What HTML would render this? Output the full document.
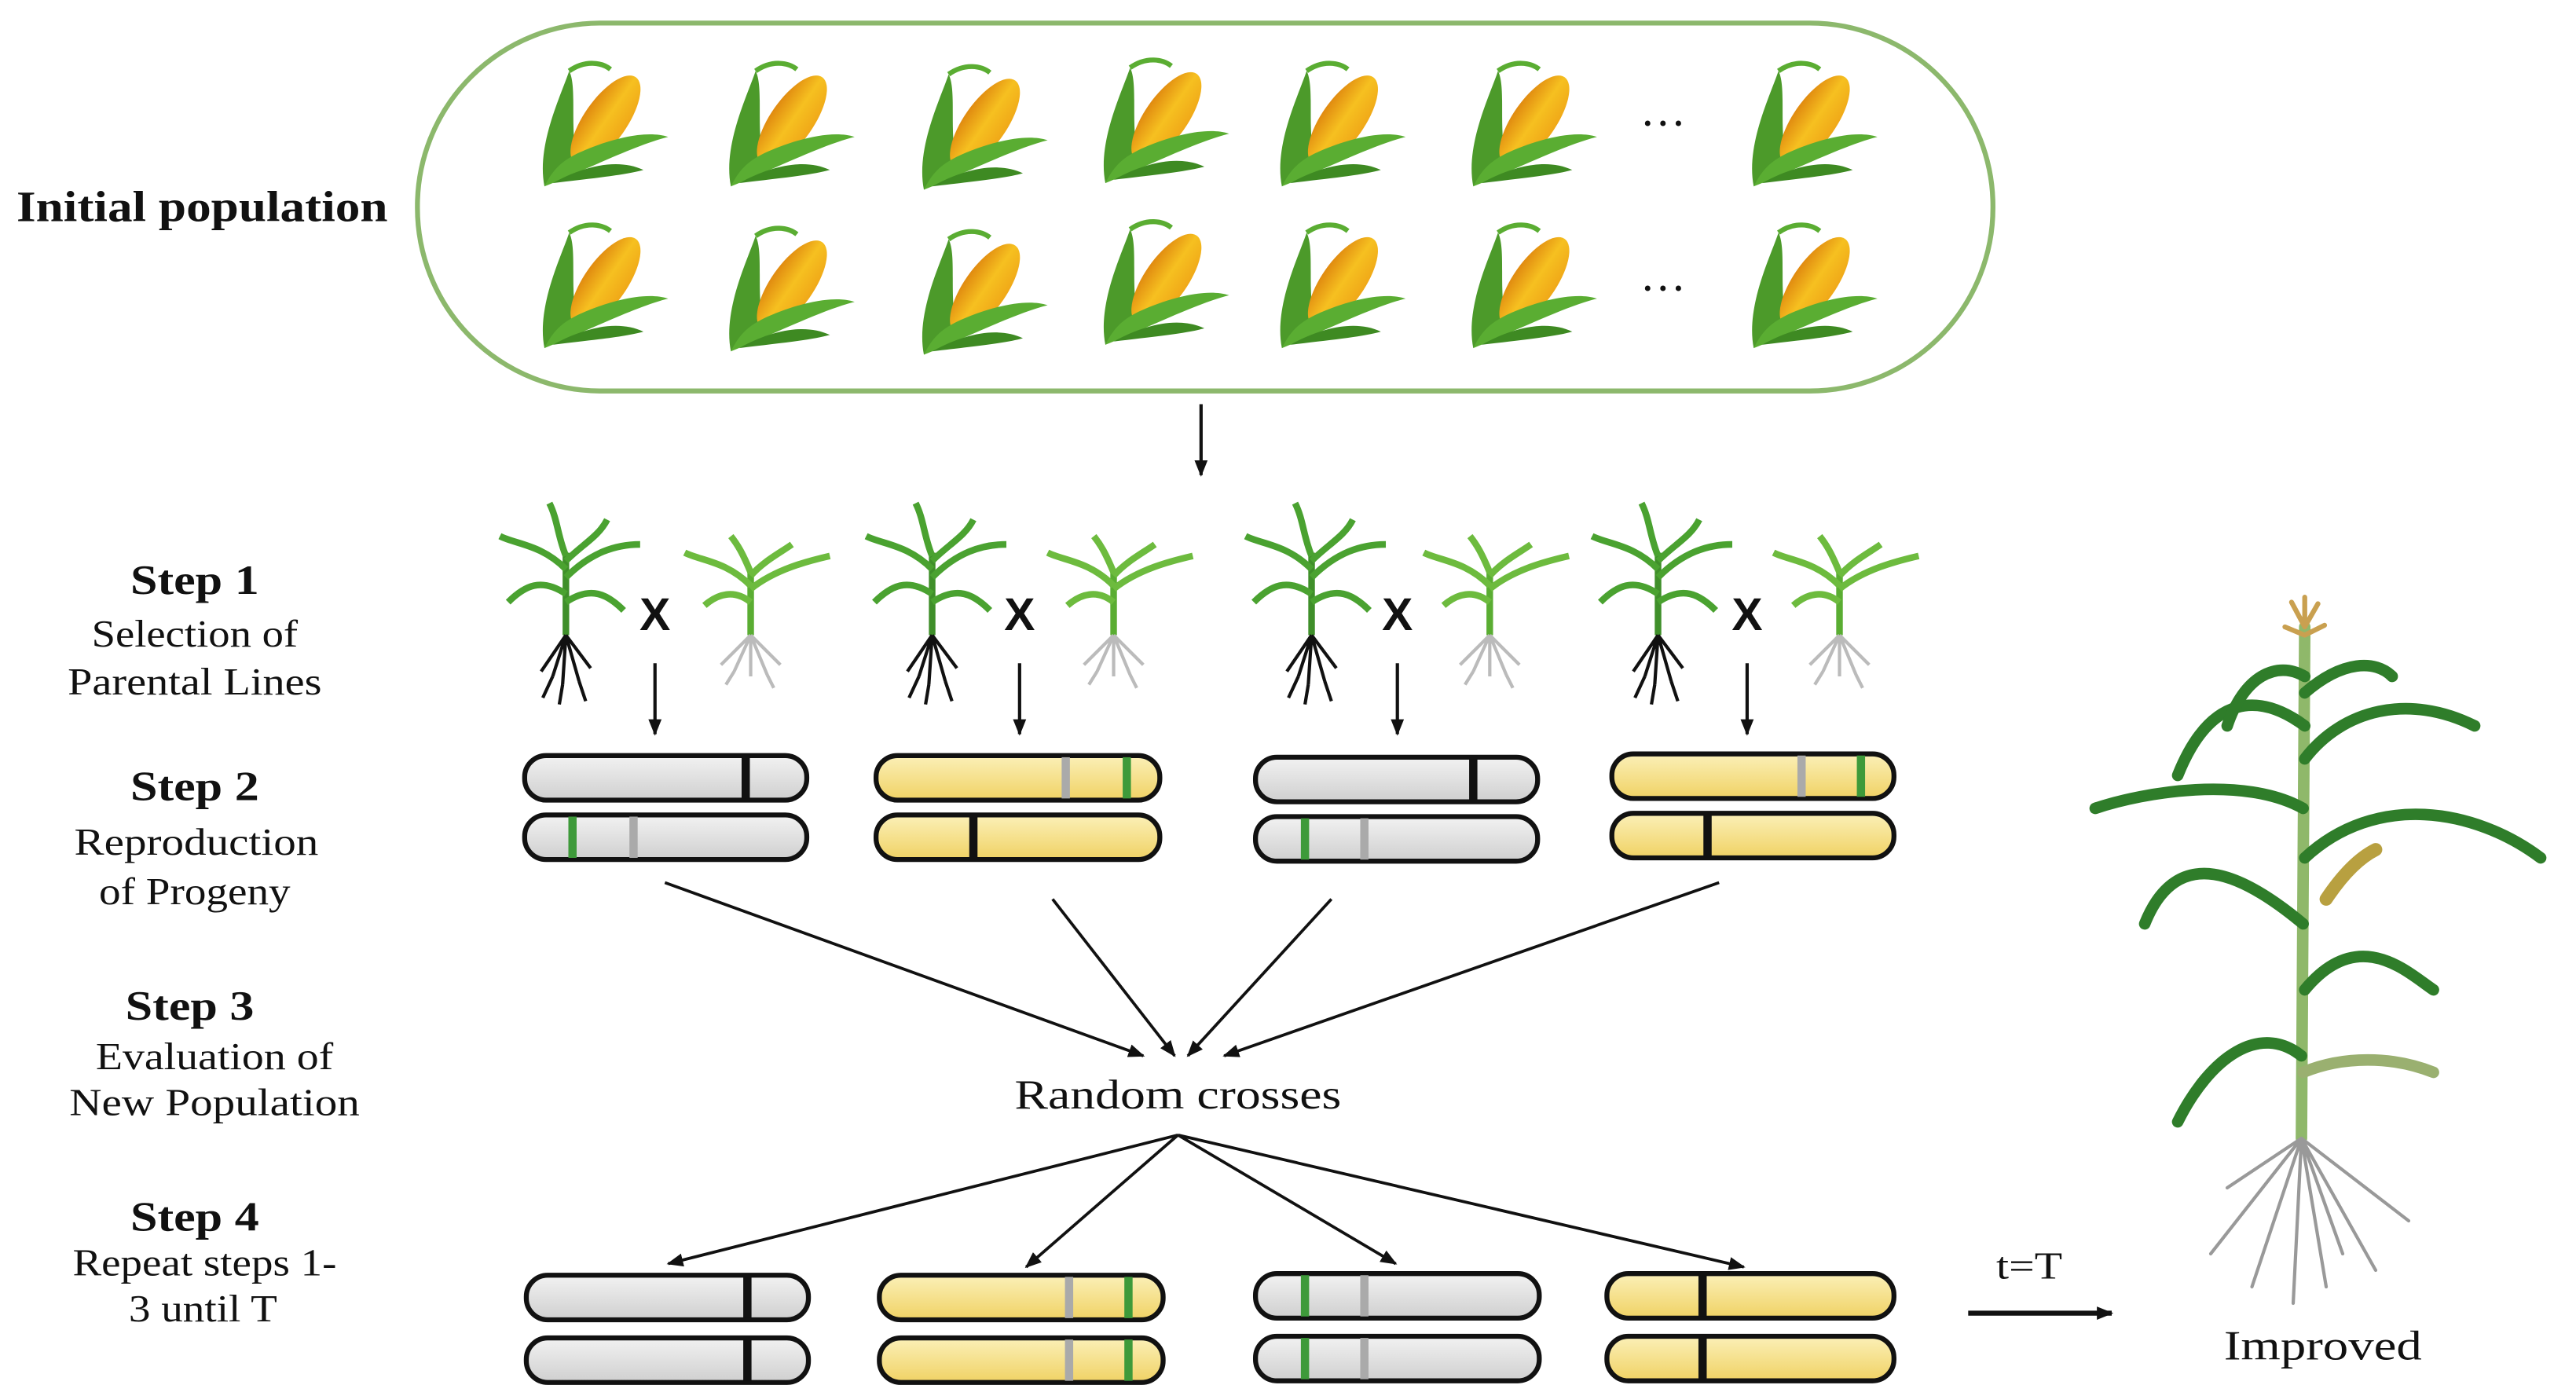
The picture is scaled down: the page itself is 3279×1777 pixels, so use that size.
<!DOCTYPE html>
<html><head><meta charset="utf-8"><style>
html,body{margin:0;padding:0;background:#fff;}
svg{display:block;}
text{font-family:"Liberation Serif",serif;fill:#111;}
</style></head><body>
<svg width="3279" height="1777" viewBox="0 0 1561.4 846.2" xmlns="http://www.w3.org/2000/svg">
<defs>
<linearGradient id="cob" x1="0" y1="0" x2="1" y2="0"><stop offset="0" stop-color="#e08a10"/><stop offset="0.5" stop-color="#f6c020"/><stop offset="1" stop-color="#f0a818"/></linearGradient>
<linearGradient id="gray" x1="0" y1="0" x2="0" y2="1"><stop offset="0" stop-color="#f2f2f2"/><stop offset="1" stop-color="#cfcfcf"/></linearGradient>
<linearGradient id="yel" x1="0" y1="0" x2="0" y2="1"><stop offset="0" stop-color="#fbf0b8"/><stop offset="1" stop-color="#f0d264"/></linearGradient>
<marker id="ah" markerWidth="10" markerHeight="10" refX="9" refY="5" orient="auto" markerUnits="userSpaceOnUse"><path d="M0,1 L10,5 L0,9 Z" fill="#111"/></marker>
<g id="corn">
<path d="M-35,35 C-40,10 -25,-20 -20,-35 C-15,-25 -20,0 -15,20 Z" fill="#4c9a2a"/>
<ellipse cx="2" cy="-5" rx="13" ry="32" transform="rotate(35 2 -5)" fill="url(#cob)"/>
<path d="M-35,35 C-10,25 20,10 40,5 C25,0 0,8 -15,15 C-25,20 -30,25 -35,35 Z" fill="#5aad32"/>
<path d="M-30,33 C-5,30 15,28 25,25 C10,18 -10,22 -30,33 Z" fill="#3e8a22"/>
<path d="M-20,-35 C-10,-42 0,-40 5,-36" stroke="#5aad32" stroke-width="3" fill="none"/>
</g>
<g id="plantA">
<path d="M0,0 L0,-50" stroke="#3f8f2a" stroke-width="4"/>
<path d="M0,-40 C-15,-55 -30,-55 -40,-60 M0,-35 C15,-50 30,-55 45,-55 M0,-25 C-15,-35 -25,-30 -35,-20 M0,-20 C15,-30 25,-25 35,-15 M0,-48 C-5,-60 -5,-70 -10,-80 M0,-45 C10,-55 20,-60 25,-70" stroke="#4aa230" stroke-width="4" fill="none"/>
<path d="M0,0 L-8,25 M0,0 L-2,30 M0,0 L8,28 M0,0 L15,20 M0,0 L-15,22 M-8,25 L-14,38 M8,28 L12,40 M-2,30 L-4,42" stroke="#111" stroke-width="2" fill="none"/>
</g>
<g id="plantB">
<path d="M0,0 L0,-40" stroke="#5aad32" stroke-width="4"/>
<path d="M0,-30 C-15,-45 -30,-45 -40,-50 M0,-28 C15,-40 35,-45 48,-48 M0,-20 C-10,-28 -20,-25 -28,-18 M0,-38 C-5,-50 -8,-55 -12,-60 M0,-36 C8,-45 18,-50 25,-55" stroke="#6dbb3e" stroke-width="4" fill="none"/>
<path d="M0,0 L-10,22 M0,0 L0,25 M0,0 L10,24 M0,0 L18,18 M0,0 L-18,18 M-10,22 L-15,30 M10,24 L14,32" stroke="#bbb" stroke-width="2" fill="none"/>
</g>
</defs>

<text x="10" y="134" font-size="26" font-weight="bold" textLength="225" lengthAdjust="spacingAndGlyphs">Initial population</text>
<rect x="253" y="14" width="955" height="223" rx="111" fill="none" stroke="#8cb86c" stroke-width="3"/>

<g>
<use href="#corn" x="365" y="78"/><use href="#corn" x="478" y="78"/><use href="#corn" x="595" y="80"/><use href="#corn" x="705" y="76"/><use href="#corn" x="812" y="78"/><use href="#corn" x="928" y="78"/><use href="#corn" x="1098" y="78"/>
<use href="#corn" x="365" y="176"/><use href="#corn" x="478" y="178"/><use href="#corn" x="595" y="180"/><use href="#corn" x="705" y="174"/><use href="#corn" x="812" y="176"/><use href="#corn" x="928" y="176"/><use href="#corn" x="1098" y="176"/>
</g>
<text x="1008" y="84" font-size="28" text-anchor="middle">···</text>
<text x="1008" y="184" font-size="28" text-anchor="middle">···</text>

<line x1="728" y1="245" x2="728" y2="288" stroke="#111" stroke-width="2" marker-end="url(#ah)"/>

<g font-size="23" text-anchor="middle" lengthAdjust="spacingAndGlyphs">
<text x="118" y="360" font-weight="bold" font-size="25" textLength="78" lengthAdjust="spacingAndGlyphs">Step 1</text>
<text x="118" y="392" textLength="125" lengthAdjust="spacingAndGlyphs">Selection of</text>
<text x="118" y="421" textLength="154" lengthAdjust="spacingAndGlyphs">Parental Lines</text>
<text x="118" y="485" font-weight="bold" font-size="25" textLength="78" lengthAdjust="spacingAndGlyphs">Step 2</text>
<text x="119" y="518" textLength="148" lengthAdjust="spacingAndGlyphs">Reproduction</text>
<text x="118" y="548" textLength="116" lengthAdjust="spacingAndGlyphs">of Progeny</text>
<text x="115" y="618" font-weight="bold" font-size="25" textLength="78" lengthAdjust="spacingAndGlyphs">Step 3</text>
<text x="130" y="648" textLength="144" lengthAdjust="spacingAndGlyphs">Evaluation of</text>
<text x="130" y="676" textLength="176" lengthAdjust="spacingAndGlyphs">New Population</text>
<text x="118" y="746" font-weight="bold" font-size="25" textLength="78" lengthAdjust="spacingAndGlyphs">Step 4</text>
<text x="124" y="773" textLength="160" lengthAdjust="spacingAndGlyphs">Repeat steps 1-</text>
<text x="123" y="801" textLength="90" lengthAdjust="spacingAndGlyphs">3 until T</text>
<text x="714" y="672" font-size="25" textLength="198" lengthAdjust="spacingAndGlyphs">Random crosses</text>
<text x="1230" y="775" textLength="40" lengthAdjust="spacingAndGlyphs">t=T</text>
<text x="1408" y="824" font-size="25" textLength="120" lengthAdjust="spacingAndGlyphs">Improved</text>
</g>

<g>
<use href="#plantA" x="343" y="385"/><use href="#plantB" x="455" y="385"/>
<use href="#plantA" x="565" y="385"/><use href="#plantB" x="675" y="385"/>
<use href="#plantA" x="795" y="385"/><use href="#plantB" x="903" y="385"/>
<use href="#plantA" x="1005" y="385"/><use href="#plantB" x="1115" y="385"/>
</g>
<g font-weight="bold" font-size="28" text-anchor="middle">
<text x="397" y="382" style="font-family:'Liberation Sans',sans-serif">X</text>
<text x="618" y="382" style="font-family:'Liberation Sans',sans-serif">X</text>
<text x="847" y="382" style="font-family:'Liberation Sans',sans-serif">X</text>
<text x="1059" y="382" style="font-family:'Liberation Sans',sans-serif">X</text>
</g>
<g stroke="#111" stroke-width="2" marker-end="url(#ah)">
<line x1="397" y1="402" x2="397" y2="445"/><line x1="618" y1="402" x2="618" y2="445"/><line x1="847" y1="402" x2="847" y2="445"/><line x1="1059" y1="402" x2="1059" y2="445"/>
</g>

<g stroke-width="3">
<rect x="318" y="458" width="171" height="27" rx="13" fill="url(#gray)" stroke="#111"/>
<rect x="318" y="494" width="171" height="27" rx="13" fill="url(#gray)" stroke="#111"/>
<rect x="531" y="458" width="172" height="27" rx="13" fill="url(#yel)" stroke="#111"/>
<rect x="531" y="494" width="172" height="27" rx="13" fill="url(#yel)" stroke="#111"/>
<rect x="761" y="459" width="171" height="27" rx="13" fill="url(#gray)" stroke="#111"/>
<rect x="761" y="495" width="171" height="27" rx="13" fill="url(#gray)" stroke="#111"/>
<rect x="977" y="457" width="171" height="27" rx="13" fill="url(#yel)" stroke="#111"/>
<rect x="977" y="493" width="171" height="27" rx="13" fill="url(#yel)" stroke="#111"/>
</g>
<g stroke-width="5">
<line x1="452" y1="459" x2="452" y2="484" stroke="#111"/>
<line x1="347" y1="495" x2="347" y2="520" stroke="#3e9a3a"/><line x1="384" y1="495" x2="384" y2="520" stroke="#aaa"/>
<line x1="646" y1="459" x2="646" y2="484" stroke="#aaa"/><line x1="683" y1="459" x2="683" y2="484" stroke="#3e9a3a"/>
<line x1="590" y1="495" x2="590" y2="520" stroke="#111"/>
<line x1="893" y1="460" x2="893" y2="485" stroke="#111"/>
<line x1="791" y1="496" x2="791" y2="521" stroke="#3e9a3a"/><line x1="827" y1="496" x2="827" y2="521" stroke="#aaa"/>
<line x1="1092" y1="458" x2="1092" y2="483" stroke="#aaa"/><line x1="1128" y1="458" x2="1128" y2="483" stroke="#3e9a3a"/>
<line x1="1035" y1="494" x2="1035" y2="519" stroke="#111"/>
</g>

<g stroke="#111" stroke-width="1.8" marker-end="url(#ah)">
<line x1="403" y1="535" x2="693" y2="640"/>
<line x1="638" y1="545" x2="712" y2="640"/>
<line x1="807" y1="545" x2="720" y2="640"/>
<line x1="1042" y1="535" x2="742" y2="640"/>
<line x1="714" y1="688" x2="405" y2="766"/>
<line x1="714" y1="688" x2="622" y2="768"/>
<line x1="714" y1="688" x2="846" y2="766"/>
<line x1="714" y1="688" x2="1057" y2="768"/>
<line x1="1193" y1="796" x2="1280" y2="796" stroke-width="3"/>
</g>

<g stroke-width="3">
<rect x="319" y="773" width="171" height="27" rx="13" fill="url(#gray)" stroke="#111"/>
<rect x="319" y="811" width="171" height="27" rx="13" fill="url(#gray)" stroke="#111"/>
<rect x="533" y="773" width="172" height="27" rx="13" fill="url(#yel)" stroke="#111"/>
<rect x="533" y="811" width="172" height="27" rx="13" fill="url(#yel)" stroke="#111"/>
<rect x="761" y="772" width="172" height="27" rx="13" fill="url(#gray)" stroke="#111"/>
<rect x="761" y="810" width="172" height="27" rx="13" fill="url(#gray)" stroke="#111"/>
<rect x="974" y="772" width="174" height="27" rx="13" fill="url(#yel)" stroke="#111"/>
<rect x="974" y="810" width="174" height="27" rx="13" fill="url(#yel)" stroke="#111"/>
</g>
<g stroke-width="5">
<line x1="453" y1="774" x2="453" y2="799" stroke="#111"/><line x1="453" y1="812" x2="453" y2="837" stroke="#111"/>
<line x1="648" y1="774" x2="648" y2="799" stroke="#aaa"/><line x1="684" y1="774" x2="684" y2="799" stroke="#3e9a3a"/>
<line x1="648" y1="812" x2="648" y2="837" stroke="#aaa"/><line x1="684" y1="812" x2="684" y2="837" stroke="#3e9a3a"/>
<line x1="791" y1="773" x2="791" y2="798" stroke="#3e9a3a"/><line x1="827" y1="773" x2="827" y2="798" stroke="#aaa"/>
<line x1="791" y1="811" x2="791" y2="836" stroke="#3e9a3a"/><line x1="827" y1="811" x2="827" y2="836" stroke="#aaa"/>
<line x1="1032" y1="773" x2="1032" y2="798" stroke="#111"/><line x1="1032" y1="811" x2="1032" y2="836" stroke="#111"/>
</g>

<g fill="none" stroke-linecap="round">
<path d="M1395,690 L1397,380" stroke="#8fb86a" stroke-width="7"/>
<path d="M1397,380 l-8,-15 M1397,380 l8,-14 M1397,380 l0,-18 M1397,385 l-12,-5 M1397,385 l12,-6" stroke="#c9a050" stroke-width="3"/>
<g stroke="#2f7d2a" stroke-width="7">
<path d="M1395,640 C1370,620 1340,640 1320,680"/>
<path d="M1397,600 C1430,560 1460,590 1475,600"/>
<path d="M1396,560 C1360,530 1320,510 1300,560"/>
<path d="M1397,520 C1440,480 1500,490 1540,520"/>
<path d="M1396,490 C1360,470 1300,480 1270,490"/>
<path d="M1397,460 C1420,430 1460,420 1500,440"/>
<path d="M1397,440 C1370,420 1340,420 1320,470"/>
<path d="M1397,420 C1420,400 1440,400 1450,410"/>
<path d="M1397,410 C1380,400 1360,410 1350,440"/>
<path d="M1396,650 C1420,640 1450,640 1475,650" stroke="#9ab070"/>
</g>
<path d="M1410,545 C1420,530 1430,520 1440,515" stroke="#b8a040" stroke-width="8"/>
<g stroke="#999" stroke-width="2">
<path d="M1395,690 L1340,760 M1395,690 L1365,780 M1395,690 L1390,790 M1395,690 L1410,780 M1395,690 L1440,770 M1395,690 L1460,740 M1395,690 L1350,720 M1395,690 L1420,760"/>
</g>
</g>
</svg>
</body></html>
